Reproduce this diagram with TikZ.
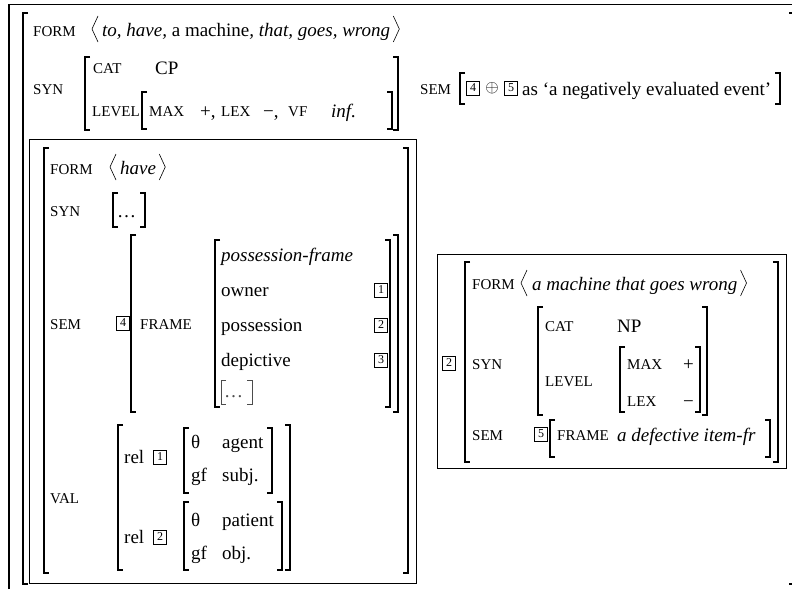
\documentclass[tikz,border=0pt]{standalone}
\usepackage{fontspec}
\setmainfont{Liberation Serif}
\usetikzlibrary{calc}
\newcommand\LB[3]{\draw[brk] (#1+5,#2) -- (#1,#2) -- (#1,#3) -- (#1+5,#3);}
\newcommand\RB[3]{\draw[brk] (#1-5,#2) -- (#1,#2) -- (#1,#3) -- (#1-5,#3);}
\newcommand\angl[2]{\draw[ang] (#1+6,#2-13) -- (#1,#2) -- (#1+6,#2+13);}
\newcommand\angrnode[1]{\draw[ang] ($(#1.base east)+(3,-20)$) -- ++(6,13) -- ++(-6,13);}
\tikzset{
  brk/.style={line width=1.1pt},
  ang/.style={line width=0.6pt},
  frameline/.style={line width=1.5pt},
  boxline/.style={line width=0.9pt},
  tx/.style={anchor=base west, inner sep=0pt, font=\fontsize{19}{22}\selectfont},
  sc/.style={anchor=base west, inner sep=0pt, font=\fontsize{15}{17}\selectfont},
  tag/.style={draw, line width=0.7pt, inner sep=0pt, minimum width=13.5pt, minimum height=14pt, font=\fontsize{12}{12}\selectfont},
}
\begin{document}
\begin{tikzpicture}[x=1pt,y=-1pt]
\useasboundingbox (0,0) rectangle (792,589);
% frame of the crop
\draw[frameline] (9,589) -- (9,4.5) -- (792,4.5);
% outer bracket
\LB{23}{13}{584}
\draw[brk] (789,13) -- (794,13) -- (794,584) -- (789,584);
% FORM row
\node[sc] (f1) at (33,36) {FORM};
\angl{92}{29}
\node[tx] (f1v) at (102,36) {\textit{to, have,} a machine\textit{, that, goes, wrong}};
\angrnode{f1v}
% SYN
\node[sc] (s1) at (33,94) {SYN};
\LB{85}{57}{130} \RB{398}{57}{130}
\node[sc] (cat1) at (93,73) {CAT};
\node[tx] (cp) at (155,74) {CP};
\node[sc] (lev1) at (92,116) {LEVEL};
\LB{142}{92}{129} \RB{392}{92}{129}
\node[sc] (max1) at (149,116) {MAX};
\node[tx] (plus1) at (200,117) {+,};
\node[sc] (lex1) at (221,116) {LEX};
\node[tx] (minus1) at (263,117) {−,};
\node[sc] (vf) at (288,116) {VF};
\node[tx] (inf) at (331,117) {\textit{inf.}};
% SEM right
\node[sc] (sem0) at (420,94) {SEM};
\LB{460}{73}{104} \RB{780}{73}{104}
\node[tag] (t4) at (473,88) {4};
\node[inner sep=0pt, font=\fontsize{19}{22}\selectfont] (oplus) at (492,88) {$\oplus$};
\node[tag] (t5) at (511,88) {5};
\node[tx] (neg) at (522,95) {as ‘a negatively evaluated event’};
% inner box: have
\draw[boxline] (29,139) rectangle (416,583);
\LB{44}{148}{573} \RB{408}{148}{573}
\node[sc] (f2) at (50,174) {FORM};
\angl{110}{167}
\node[tx] (have) at (120,174) {\textit{have}};
\angrnode{have}
\node[sc] (s2) at (50,216) {SYN};
\LB{113}{193}{227}
\node[tx] (dots1) at (117,217) {\ldots};
\RB{145}{193}{227}
\node[sc] (sem2) at (50,329) {SEM};
\node[tag] (t4a) at (123,323) {4};
\LB{131}{235}{412} \RB{398}{235}{412}
\node[sc] (fr1) at (140,329) {FRAME};
\LB{215}{240}{407} \RB{390}{240}{407}
\node[tx] (pf) at (221,261) {\textit{possession-frame}};
\node[tx] (own) at (221,296) {owner};
\node[tag] (t1a) at (381,290) {1};
\node[tx] (poss) at (221,331) {possession};
\node[tag] (t2a) at (381,325) {2};
\node[tx] (dep) at (221,366) {depictive};
\node[tag] (t3a) at (381,360) {3};
\draw[line width=0.7pt, black!70] (226,380) -- (221,380) -- (221,404) -- (226,404);
\node[tx, text=black!70] (dots2) at (224,397) {\ldots};
\draw[line width=0.7pt, black!70] (247,380) -- (252,380) -- (252,404) -- (247,404);
% VAL
\node[sc] (val) at (50,503) {VAL};
\LB{118}{425}{570} \RB{290}{425}{570}
\node[tx] (rel1) at (124,463) {rel};
\node[tag] (t1b) at (160,457) {1};
\LB{184}{428}{493} \RB{272}{428}{493}
\node[tx] (th1) at (191,448) {θ};
\node[tx] (ag) at (222,448) {agent};
\node[tx] (gf1) at (191,481) {gf};
\node[tx] (subj) at (222,481) {subj.};
\node[tx] (rel2) at (124,543) {rel};
\node[tag] (t2b) at (160,537) {2};
\LB{184}{502}{570} \RB{282}{502}{570}
\node[tx] (th2) at (191,526) {θ};
\node[tx] (pat) at (222,526) {patient};
\node[tx] (gf2) at (191,559) {gf};
\node[tx] (obj) at (222,559) {obj.};
% right box
\draw[boxline] (437,254) rectangle (786,468);
\node[tag] (t2c) at (449,363) {2};
\LB{465}{262}{462} \RB{778}{262}{462}
\node[sc] (f3) at (472,289) {FORM};
\angl{521}{283}
\node[tx] (mach) at (532,290) {\textit{a machine that goes wrong}};
\angrnode{mach}
\node[sc] (s3) at (472,369) {SYN};
\LB{538}{307}{415} \RB{707}{307}{415}
\node[sc] (cat2) at (545,331) {CAT};
\node[tx] (np) at (617,332) {NP};
\node[sc] (lev2) at (545,386) {LEVEL};
\LB{620}{347}{412} \RB{700}{347}{412}
\node[sc] (max2) at (627,369) {MAX};
\node[tx] (plus2) at (683,370) {+};
\node[sc] (lex2) at (627,406) {LEX};
\node[tx] (minus2) at (683,407) {−};
\node[sc] (sem3) at (472,440) {SEM};
\node[tag] (t5b) at (541,434) {5};
\LB{550}{420}{457} \RB{770}{420}{457}
\node[sc] (fr2) at (557,440) {FRAME};
\node[tx] (defi) at (617,441) {\textit{a defective item-fr}};
\end{tikzpicture}
\end{document}
